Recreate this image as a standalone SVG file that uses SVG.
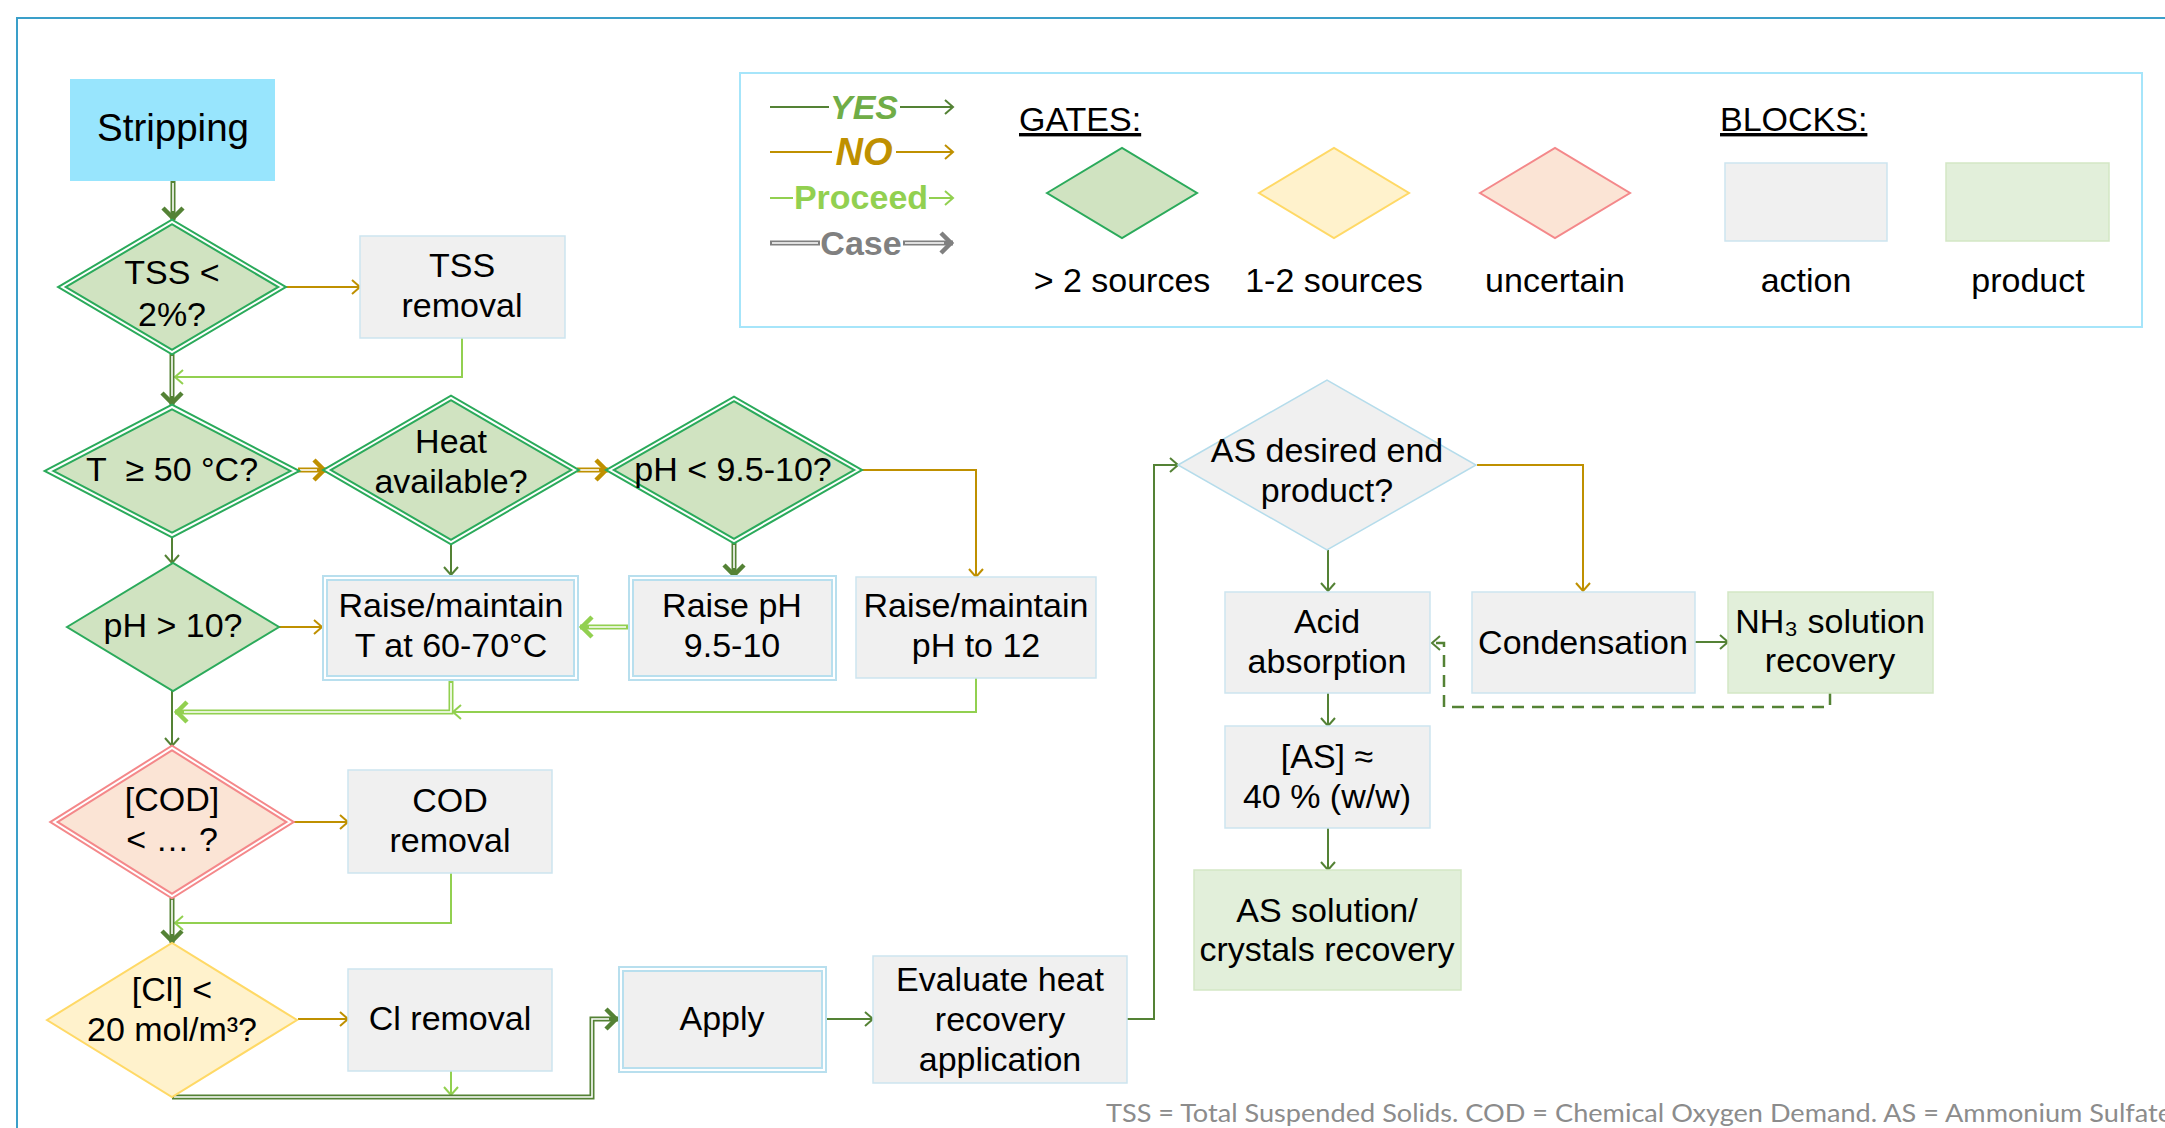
<svg xmlns="http://www.w3.org/2000/svg" width="2165" height="1128" viewBox="0 0 2165 1128">
<defs>
<style>
.t{font-family:"Liberation Sans",Arial,sans-serif;font-size:34px;fill:#000;text-anchor:middle}
.hd{font-family:"Liberation Sans",Arial,sans-serif;font-size:34px;fill:#000;text-anchor:start;text-decoration:underline}
.act{fill:#F0F0F0;stroke:#CDE5EF;stroke-width:1.5}
.prod{fill:#E2EFDA;stroke:#D3E7C5;stroke-width:1.5}
.gG{fill:#D0E3C1;stroke:#2BAA5B;stroke-width:6}
.gGs{fill:#D0E3C1;stroke:#2BAA5B;stroke-width:2}
.gR{fill:#FBE4D5;stroke:#F4888A;stroke-width:6}
.gRs{fill:#FBE4D5;stroke:#F4888A;stroke-width:2}
.gY{fill:#FFF2CC;stroke:#FFD966;stroke-width:2}
.gA{fill:#F0F0F0;stroke:#B5DCEB;stroke-width:1.5}
.inner{fill:none;stroke:#fff;stroke-width:2}
.dblB{fill:#F0F0F0;stroke:#B8DFEE;stroke-width:6}
.c{fill:none;stroke-width:2}
.y{stroke:#548235}
.n{stroke:#BF9000}
.p{stroke:#92D050}
.g{stroke:#808080}
.d{fill:none;stroke-width:5}
.w{fill:none;stroke:#fff;stroke-width:1.6}
.dash{fill:none;stroke:#548235;stroke-width:2.5;stroke-dasharray:12 8}
.lg{font-family:"Liberation Sans",Arial,sans-serif;font-size:34px;font-weight:bold;text-anchor:middle}
.note{font-family:Lato,"Open Sans","Liberation Sans",sans-serif;font-size:25px;fill:#8C8C8C}
</style>
<marker id="mY" markerUnits="userSpaceOnUse" viewBox="0 0 30 30" markerWidth="30" markerHeight="30" refX="26" refY="15" orient="auto"><path d="M18,8L26,15L18,22" fill="none" stroke="#548235" stroke-width="2"/></marker>
<marker id="mN" markerUnits="userSpaceOnUse" viewBox="0 0 30 30" markerWidth="30" markerHeight="30" refX="26" refY="15" orient="auto"><path d="M18,8L26,15L18,22" fill="none" stroke="#BF9000" stroke-width="2"/></marker>
<marker id="mP" markerUnits="userSpaceOnUse" viewBox="0 0 30 30" markerWidth="30" markerHeight="30" refX="26" refY="15" orient="auto"><path d="M18,8L26,15L18,22" fill="none" stroke="#92D050" stroke-width="2"/></marker>
<marker id="bY" markerUnits="userSpaceOnUse" viewBox="0 0 30 30" markerWidth="30" markerHeight="30" refX="26" refY="15" orient="auto"><path d="M14,5L24,15L14,25" fill="none" stroke="#548235" stroke-width="4.5"/></marker>
<marker id="bN" markerUnits="userSpaceOnUse" viewBox="0 0 30 30" markerWidth="30" markerHeight="30" refX="26" refY="15" orient="auto"><path d="M14,5L24,15L14,25" fill="none" stroke="#BF9000" stroke-width="4.5"/></marker>
<marker id="bP" markerUnits="userSpaceOnUse" viewBox="0 0 30 30" markerWidth="30" markerHeight="30" refX="26" refY="15" orient="auto"><path d="M14,5L24,15L14,25" fill="none" stroke="#92D050" stroke-width="4.5"/></marker>
<marker id="bG" markerUnits="userSpaceOnUse" viewBox="0 0 30 30" markerWidth="30" markerHeight="30" refX="26" refY="15" orient="auto"><path d="M14,5L24,15L14,25" fill="none" stroke="#808080" stroke-width="4.5"/></marker>
</defs>

<rect x="0" y="0" width="2165" height="1128" fill="#fff"/>
<rect x="17" y="18" width="2200" height="1200" fill="none" stroke="#3A9FC9" stroke-width="2"/>

<g id="legend">
<rect x="740" y="73" width="1402" height="254" fill="#fff" stroke="#A6E5FA" stroke-width="2"/>
<path class="c y" d="M770,107H829M900,107H953" marker-end="url(#mY)"/>
<text class="lg" x="864" y="119" font-style="italic" fill="#70AD47">YES</text>
<path class="c n" d="M770,152H832M896,152H953" marker-end="url(#mN)"/>
<text class="lg" x="864" y="165" font-style="italic" fill="#BF9000" style="font-size:38px">NO</text>
<path class="c p" d="M770,198H793M929,198H953" marker-end="url(#mP)"/>
<text class="lg" x="861" y="209" fill="#92D050">Proceed</text>
<path class="d g" d="M770,243H820M903,243H953" marker-end="url(#bG)"/>
<path class="w" d="M772,243H818M905,243H944"/>
<text class="lg" x="861" y="255" fill="#808080">Case</text>
<text class="hd" x="1019" y="131">GATES:</text>
<text class="hd" x="1720" y="131">BLOCKS:</text>
<polygon class="gGs" points="1047,193 1122,148 1197,193 1122,238"/>
<polygon class="gY" points="1259,193 1334,148 1409,193 1334,238"/>
<polygon class="gRs" points="1480,193 1555,148 1630,193 1555,238"/>
<rect class="act" x="1725" y="163" width="162" height="78"/>
<rect class="prod" x="1946" y="163" width="163" height="78"/>
<text class="t" x="1122" y="292">&gt; 2 sources</text>
<text class="t" x="1334" y="292">1-2 sources</text>
<text class="t" x="1555" y="292">uncertain</text>
<text class="t" x="1806" y="292">action</text>
<text class="t" x="2028" y="292">product</text>
</g>

<g id="connectors">
<path class="c n" d="M284,287H360" marker-end="url(#mN)"/>
<path class="c p" d="M462,338V377H175" marker-end="url(#mP)"/>
<path class="c y" d="M172,537V563" marker-end="url(#mY)"/>
<path class="c y" d="M451,544V575" marker-end="url(#mY)"/>
<path class="c n" d="M860,470H976V577" marker-end="url(#mN)"/>
<path class="c n" d="M279,627H322" marker-end="url(#mN)"/>
<path class="c p" d="M976,678V712H453" marker-end="url(#mP)"/>
<path class="c y" d="M172,691V746" marker-end="url(#mY)"/>
<path class="c n" d="M293,822H348" marker-end="url(#mN)"/>
<path class="c p" d="M451,873V923H175" marker-end="url(#mP)"/>
<path class="c n" d="M298,1019H348" marker-end="url(#mN)"/>
<path class="c p" d="M451,1071V1095" marker-end="url(#mP)"/>
<path class="c y" d="M827,1019H873" marker-end="url(#mY)"/>
<path class="c y" d="M1127,1019H1154V465H1178" marker-end="url(#mY)"/>
<path class="c y" d="M1328,550V591" marker-end="url(#mY)"/>
<path class="c n" d="M1477,465H1583V591" marker-end="url(#mN)"/>
<path class="c y" d="M1328,693V726" marker-end="url(#mY)"/>
<path class="c y" d="M1328,828V870" marker-end="url(#mY)"/>
<path class="c y" d="M1695,642H1728" marker-end="url(#mY)"/>
<path class="dash" d="M1830,693V707H1444V643H1432" marker-end="url(#mY)"/>

<path class="d y" d="M173,181V220" marker-end="url(#bY)"/>
<path class="w" d="M173,183V211"/>
<path class="d y" d="M172,354V405" marker-end="url(#bY)"/>
<path class="w" d="M172,356V396"/>
<path class="d n" d="M298,470H326" marker-end="url(#bN)"/>
<path class="w" d="M300,470H317"/>
<path class="d n" d="M577,470H608" marker-end="url(#bN)"/>
<path class="w" d="M579,470H599"/>
<path class="d y" d="M734,543V577" marker-end="url(#bY)"/>
<path class="w" d="M734,545V568"/>
<path class="d p" d="M628,627H580" marker-end="url(#bP)"/>
<path class="w" d="M626,627H589"/>
<path class="d p" d="M451,681V712H175" marker-end="url(#bP)"/>
<path class="w" d="M451,683V712H184"/>
<path class="d y" d="M172,898V943" marker-end="url(#bY)"/>
<path class="w" d="M172,900V934"/>
<path class="d y" d="M172,1097H592V1019H618" marker-end="url(#bY)"/>
<path class="w" d="M174,1097H592V1019H609"/>
</g>

<g id="stripping">
<rect x="70" y="79" width="205" height="102" fill="#98E5FD"/>
<text class="t" x="173" y="141" style="font-size:38.5px">Stripping</text>
</g>

<g id="tss-gate">
<polygon class="gG" points="62,287 172,222 282,287 172,352"/>
<polygon class="inner" points="62,287 172,222 282,287 172,352"/>
<text class="t" x="172" y="284">TSS &lt;</text>
<text class="t" x="172" y="326">2%?</text>
</g>

<g id="tss-removal">
<rect class="act" x="360" y="236" width="205" height="102"/>
<text class="t" x="462" y="277">TSS</text>
<text class="t" x="462" y="317">removal</text>
</g>

<g id="temp-gate">
<polygon class="gG" points="49,471 172,407 295,471 172,535"/>
<polygon class="inner" points="49,471 172,407 295,471 172,535"/>
<text class="t" x="172" y="481">T&#160; ≥ 50 °C?</text>
</g>

<g id="heat-gate">
<polygon class="gG" points="327,470 451,398 575,470 451,542"/>
<polygon class="inner" points="327,470 451,398 575,470 451,542"/>
<text class="t" x="451" y="453">Heat</text>
<text class="t" x="451" y="493">available?</text>
</g>

<g id="ph-low-gate">
<polygon class="gG" points="610,470 734,399 858,470 734,541"/>
<polygon class="inner" points="610,470 734,399 858,470 734,541"/>
<text class="t" x="733" y="481">pH &lt; 9.5-10?</text>
</g>

<g id="ph-high-gate">
<polygon class="gGs" points="67,627 173,563 279,627 173,691"/>
<text class="t" x="173" y="637">pH &gt; 10?</text>
</g>

<g id="raise-t">
<rect class="dblB" x="325" y="578" width="251" height="100"/>
<rect class="inner" x="325" y="578" width="251" height="100"/>
<text class="t" x="451" y="617">Raise/maintain</text>
<text class="t" x="451" y="657">T at 60-70°C</text>
</g>

<g id="raise-ph">
<rect class="dblB" x="631" y="578" width="203" height="100"/>
<rect class="inner" x="631" y="578" width="203" height="100"/>
<text class="t" x="732" y="617">Raise pH</text>
<text class="t" x="732" y="657">9.5-10</text>
</g>

<g id="raise-ph12">
<rect class="act" x="856" y="577" width="240" height="101"/>
<text class="t" x="976" y="617">Raise/maintain</text>
<text class="t" x="976" y="657">pH to 12</text>
</g>

<g id="cod-gate">
<polygon class="gR" points="54,822 172,748 290,822 172,896"/>
<polygon class="inner" points="54,822 172,748 290,822 172,896"/>
<text class="t" x="172" y="811">[COD]</text>
<text class="t" x="172" y="851">&lt; … ?</text>
</g>

<g id="cod-removal">
<rect class="act" x="348" y="770" width="204" height="103"/>
<text class="t" x="450" y="812">COD</text>
<text class="t" x="450" y="852">removal</text>
</g>

<g id="cl-gate">
<polygon class="gY" points="47,1020 172,943 297,1020 172,1097"/>
<text class="t" x="172" y="1001">[Cl] &lt;</text>
<text class="t" x="172" y="1041">20 mol/m³?</text>
</g>

<g id="cl-removal">
<rect class="act" x="348" y="969" width="204" height="102"/>
<text class="t" x="450" y="1030">Cl removal</text>
</g>

<g id="apply">
<rect class="dblB" x="621" y="969" width="203" height="101"/>
<rect class="inner" x="621" y="969" width="203" height="101"/>
<text class="t" x="722" y="1030">Apply</text>
</g>

<g id="evaluate">
<rect class="act" x="873" y="956" width="254" height="127"/>
<text class="t" x="1000" y="991">Evaluate heat</text>
<text class="t" x="1000" y="1031">recovery</text>
<text class="t" x="1000" y="1071">application</text>
</g>

<g id="as-gate">
<polygon class="gA" points="1178,465 1327,380 1476,465 1327,550"/>
<text class="t" x="1327" y="462">AS desired end</text>
<text class="t" x="1327" y="502">product?</text>
</g>

<g id="acid-absorption">
<rect class="act" x="1225" y="592" width="205" height="101"/>
<text class="t" x="1327" y="633">Acid</text>
<text class="t" x="1327" y="673">absorption</text>
</g>

<g id="condensation">
<rect class="act" x="1472" y="592" width="223" height="101"/>
<text class="t" x="1583" y="654">Condensation</text>
</g>

<g id="nh3-recovery">
<rect class="prod" x="1728" y="592" width="205" height="101"/>
<text class="t" x="1830" y="633">NH₃ solution</text>
<text class="t" x="1830" y="672">recovery</text>
</g>

<g id="as-concentration">
<rect class="act" x="1225" y="726" width="205" height="102"/>
<text class="t" x="1327" y="768">[AS] ≈</text>
<text class="t" x="1327" y="808">40 % (w/w)</text>
</g>

<g id="as-recovery">
<rect class="prod" x="1194" y="870" width="267" height="120"/>
<text class="t" x="1327" y="922">AS solution/</text>
<text class="t" x="1327" y="961">crystals recovery</text>
</g>

<text class="note" x="1106" y="1122" textLength="1066" lengthAdjust="spacingAndGlyphs">TSS = Total Suspended Solids. COD = Chemical Oxygen Demand. AS = Ammonium Sulfate</text>
</svg>
